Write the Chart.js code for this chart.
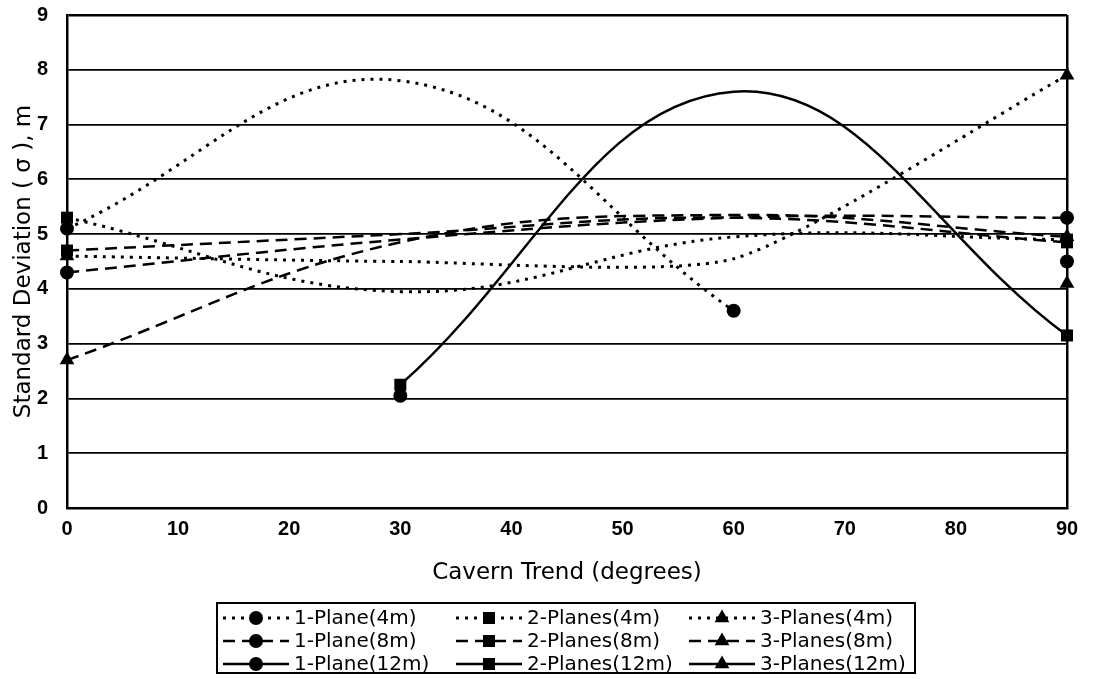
<!DOCTYPE html>
<html lang="en">
<head>
    <meta charset="UTF-8">
    <title>Standard Deviation vs Cavern Trend</title>
    <script src="https://cdn.jsdelivr.net/npm/chart.js"></script>
    <style>
        html, body {
            margin: 0;
            padding: 0;
            background: #fff;
        }
        canvas {
            display: block;
        }
    </style>
</head>
<body>
    <canvas id="sdChart" width="1095" height="679"></canvas>

    <script>
        // Cavern trend (degrees) where each series was sampled
        var trend = [0, 30, 60, 90];

        // Standard deviation values (m), null = no value
        var plane1_4m  = [5.1, 7.8, 3.6, null];
        var planes2_4m = [5.3, 3.95, 4.95, 4.9];
        var planes3_4m = [4.6, 4.5, 4.55, 7.9];
        var plane1_8m  = [4.3, 4.9, 5.3, 5.3];
        var planes2_8m = [4.7, 5.0, 5.3, 4.85];
        var planes3_8m = [2.7, 4.85, 5.35, 4.95];
        var plane1_12m  = [null, 2.05, null, 4.5];
        var planes2_12m = [null, 2.25, 7.6, 3.15];
        var planes3_12m = [null, null, null, 4.1];

        var seriesNames = [
            "1-Plane(4m)", "2-Planes(4m)", "3-Planes(4m)",
            "1-Plane(8m)", "2-Planes(8m)", "3-Planes(8m)",
            "1-Plane(12m)", "2-Planes(12m)", "3-Planes(12m)"
        ];
        var seriesValues = [
            plane1_4m, planes2_4m, planes3_4m,
            plane1_8m, planes2_8m, planes3_8m,
            plane1_12m, planes2_12m, planes3_12m
        ];

        var yTicks = [0, 1, 2, 3, 4, 5, 6, 7, 8, 9];
        var xTicks = [0, 10, 20, 30, 40, 50, 60, 70, 80, 90];

        var dotted = [3, 6];
        var dashed = [12, 7];
        var solid = [];
        var lineDash = [dotted, dotted, dotted, dashed, dashed, dashed, solid, solid, solid];
        var markers = ["circle", "rect", "triangle", "circle", "rect", "triangle", "circle", "rect", "triangle"];
        var markerSize = { circle: 7, rect: 8.5, triangle: 8.5 };

        // only the first and last point of each curve carries a marker
        function endMarker(ctx) {
            var data = ctx.dataset.data;
            var first = -1, last = -1;
            for (var i = 0; i < data.length; i++) {
                if (data[i].y !== null) {
                    if (first < 0) first = i;
                    last = i;
                }
            }
            if (ctx.dataIndex === first || ctx.dataIndex === last) {
                return markerSize[ctx.dataset.pointStyle];
            }
            return 0;
        }

        var datasets = seriesNames.map(function (name, s) {
            return {
                label: name,
                data: trend.map(function (x, i) { return { x: x, y: seriesValues[s][i] }; }),
                borderColor: "#000",
                backgroundColor: "#000",
                borderWidth: lineDash[s] === dotted ? 3 : 2.5,
                borderDash: lineDash[s],
                pointStyle: markers[s],
                pointRadius: endMarker,
                pointBorderWidth: 0,
                tension: s === 2 ? 0.2 : 0.4,
                fill: false,
                clip: false
            };
        });

        // Boxed legend, 3 columns x 3 rows like the original
        var boxLegend = {
            id: "boxLegend",
            afterDraw: function (chart) {
                var ctx = chart.ctx;
                var box = { left: 217, top: 603, right: 915, bottom: 673 };
                var cols = [223, 456, 689];
                var rows = [618, 641, 664];
                ctx.save();
                ctx.strokeStyle = "#000";
                ctx.fillStyle = "#000";
                ctx.lineWidth = 2;
                ctx.strokeRect(box.left, box.top, box.right - box.left, box.bottom - box.top);
                ctx.font = "20px 'DejaVu Sans'";
                ctx.textBaseline = "middle";
                chart.data.datasets.forEach(function (ds, i) {
                    var x = cols[i % 3];
                    var y = rows[Math.floor(i / 3)];
                    ctx.beginPath();
                    ctx.setLineDash(ds.borderDash);
                    ctx.lineWidth = ds.borderWidth;
                    ctx.moveTo(x, y);
                    ctx.lineTo(x + 66, y);
                    ctx.stroke();
                    ctx.setLineDash([]);
                    Chart.helpers.drawPoint(ctx, {
                        pointStyle: ds.pointStyle,
                        radius: markerSize[ds.pointStyle],
                        rotation: 0,
                        borderWidth: 0
                    }, x + 33, y);
                    ctx.fillText(ds.label, x + 71, y + 1);
                });
                ctx.restore();
            }
        };

        var ctx = document.getElementById("sdChart").getContext("2d");
        var sdChart = new Chart(ctx, {
            type: "line",
            data: { datasets: datasets },
            plugins: [boxLegend],
            options: {
                responsive: false,
                animation: false,
                layout: { padding: { left: 0, right: 28, top: 0, bottom: 0 } },
                plugins: {
                    legend: { display: false },
                    tooltip: { enabled: false }
                },
                scales: {
                    x: {
                        type: "linear",
                        min: 0,
                        max: 90,
                        afterFit: function (scale) { scale.height = 171; },
                        afterBuildTicks: function (scale) {
                            scale.ticks = xTicks.map(function (v) { return { value: v }; });
                        },
                        ticks: {
                            color: "#000",
                            padding: 9,
                            autoSkip: false,
                            maxRotation: 0,
                            font: { family: "'Liberation Sans', Arial, sans-serif", size: 20, weight: "bold" }
                        },
                        grid: {
                            drawTicks: false,
                            color: function (c) { return c.tick && c.tick.value === 90 ? "#000" : "rgba(0,0,0,0)"; },
                            lineWidth: 2.5
                        },
                        border: { color: "#000", width: 2.5 },
                        title: {
                            display: true,
                            text: "Cavern Trend (degrees)",
                            color: "#000",
                            font: { family: "'DejaVu Sans'", size: 23 },
                            padding: { top: 0, bottom: 92 }
                        }
                    },
                    y: {
                        min: 0,
                        max: 9,
                        afterFit: function (scale) {
                            scale.width = 67;
                            scale.paddingTop = 15;
                        },
                        afterBuildTicks: function (scale) {
                            scale.ticks = yTicks.map(function (v) { return { value: v }; });
                        },
                        ticks: {
                            color: "#000",
                            padding: 19,
                            autoSkip: false,
                            font: { family: "'Liberation Sans', Arial, sans-serif", size: 20, weight: "bold" }
                        },
                        grid: {
                            drawTicks: false,
                            color: "#000",
                            lineWidth: function (c) { return c.tick && c.tick.value === 9 ? 2.5 : 1.8; }
                        },
                        border: { color: "#000", width: 2.5 },
                        title: {
                            display: true,
                            text: "Standard Deviation ( σ ), m",
                            color: "#000",
                            font: { family: "'DejaVu Sans'", size: 23 },
                            padding: { top: 10, bottom: 0 }
                        }
                    }
                }
            }
        });
    </script>
</body>
</html>
